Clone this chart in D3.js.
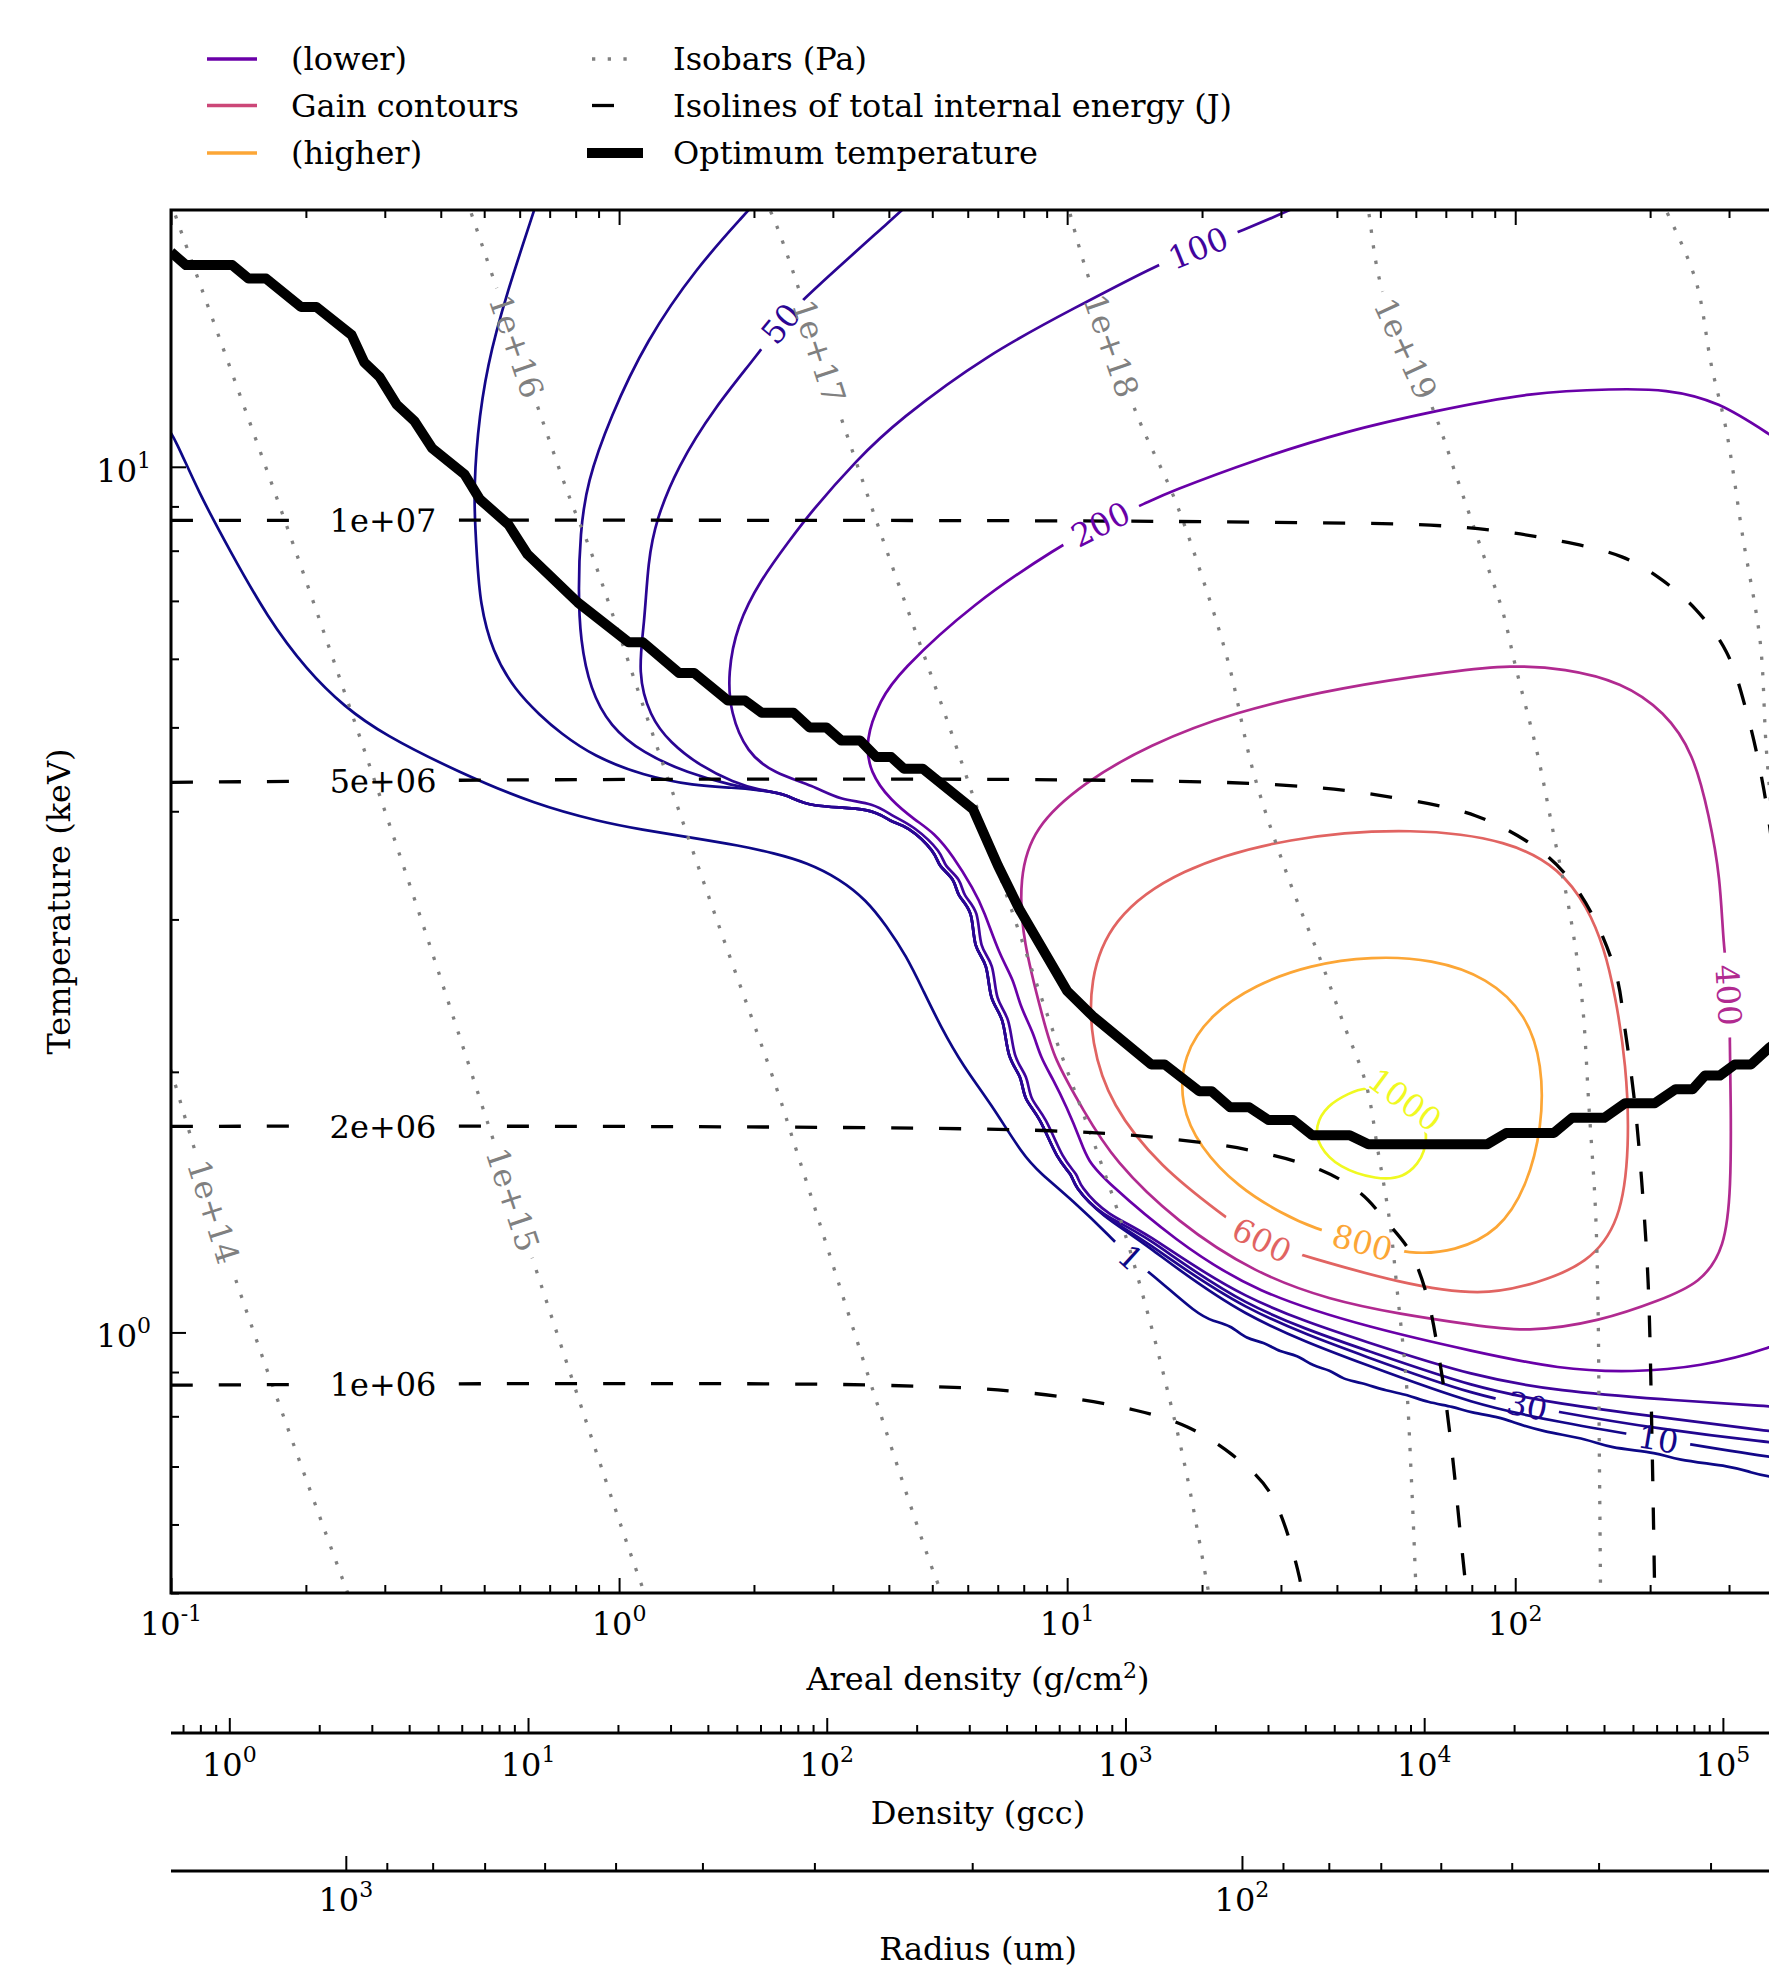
<!DOCTYPE html>
<html>
<head>
<meta charset="utf-8">
<title>Gain contours</title>
<script src="https://cdn.jsdelivr.net/npm/d3@7"></script>
<style>
  body { margin: 0; background: #fff; }
  svg { display: block; font-family: "DejaVu Serif", serif; }
</style>
</head>
<body>
<svg id="chart"></svg>
<script>
// ---- data: areal density (g/cm2) vs temperature (keV) ----

const gainLevels = [1, 10, 30, 50, 100, 200, 400, 600, 800, 1000];

const gain1 = [[0.097,11.2],[0.102,10.8],[0.115,9.36],[0.135,8.02],[0.164,6.70],[0.201,5.82],[0.244,5.28],[0.297,4.91],[0.441,4.43],[0.653,4.07],[0.908,3.89],[1.12,3.81],[1.45,3.73],[1.86,3.65],[2.21,3.58],[2.63,3.49],[3.11,3.34],[3.56,3.16],[3.95,2.95],[4.38,2.72],[4.76,2.49],[5.21,2.26],[5.86,2.03],[6.75,1.84],[7.98,1.60],[8.68,1.53],[10.3,1.42],[12.5,1.29],[13.8,1.22],[15.7,1.16],[19.5,1.05],[21.2,1.03],[23.1,1.02],[25.2,0.981],[27.4,0.976],[29.9,0.948],[32.6,0.943],[35.4,0.913],[38.6,0.906],[41.3,0.882],[45.1,0.876],[51.8,0.855],[57.4,0.848],[63.6,0.830],[72.8,0.821],[79.4,0.808],[92.7,0.798],[99.1,0.787],[114,0.769],[147,0.752],[160,0.736],[211,0.726],[225,0.713],[307,0.700],[335,0.689],[369,0.681],[420,0.675]];

const upper10 = [[0.656,20.3],[0.645,19.7],[0.562,15.9],[0.507,13.1],[0.482,10.9],[0.473,9.16],[0.482,7.85],[0.489,6.97],[0.521,6.11],[0.586,5.52],[0.667,5.16],[0.738,4.93],[0.877,4.63],[1.13,4.40],[1.47,4.28],[1.80,4.26]];
const upper30 = [[2.03,20.3],[1.93,19.7],[1.49,17.0],[1.15,14.0],[0.955,11.4],[0.847,9.58],[0.819,8.38],[0.811,7.21],[0.819,6.31],[0.862,5.53],[0.955,5.01],[1.13,4.67],[1.42,4.43],[1.80,4.28]];
const upper50 = [[4.51,20.3],[4.24,19.7],[2.67,15.9],[2.29,14.7],[2.07,13.6],[1.63,11.7],[1.35,10.0],[1.21,8.69],[1.16,7.78],[1.14,6.60],[1.10,5.78],[1.17,5.15],[1.30,4.80],[1.52,4.51],[1.80,4.32]];
const cliffBundle = [[2.06,4.23],[2.37,4.19],[2.63,4.04],[3.71,4.04],[4.03,3.88],[4.38,3.86],[5.11,3.58],[5.14,3.46],[5.63,3.34],[5.67,3.19],[6.17,3.08],[6.17,2.77],[6.66,2.68],[6.70,2.41],[7.24,2.32],[7.34,2.07],[7.93,1.98],[7.98,1.86],[8.68,1.78],[9.50,1.58],[10.3,1.52],[10.3,1.48],[12.0,1.36]];
const fan10 = [[14.6,1.28],[24.3,1.04],[48.2,0.911],[80.5,0.826],[126,0.787],[211,0.752],[369,0.717],[455,0.710]];
const fan30 = [[14.6,1.29],[24.3,1.06],[48.2,0.931],[80.5,0.846],[126,0.808],[211,0.773],[369,0.746],[455,0.739]];
const fan50 = [[14.6,1.31],[24.3,1.07],[48.2,0.948],[80.5,0.864],[126,0.826],[211,0.798],[369,0.769],[455,0.760]];

const gain10 = [...upper10, ...cliffBundle, ...fan10];
const gain30 = [...upper30, ...cliffBundle, ...fan30];
const gain50 = [...upper50, ...cliffBundle, ...fan50];

const gain100 = [[33.3,20.1],[30.8,19.7],[24.9,18.8],[19.5,17.9],[15.5,17.0],[10.5,15.3],[6.65,13.5],[4.18,11.3],[3.40,10.2],[2.67,8.85],[2.41,8.24],[2.07,7.41],[1.83,6.55],[1.75,5.78],[1.77,5.20],[1.93,4.67],[2.21,4.43],[2.72,4.28],[3.11,4.12],[3.70,4.09],[4.10,3.94],[4.54,3.85],[5.27,3.58],[5.30,3.46],[5.80,3.34],[5.85,3.19],[6.36,3.08],[6.36,2.77],[6.87,2.68],[6.91,2.41],[7.46,2.32],[7.57,2.07],[8.18,1.98],[8.23,1.86],[8.95,1.78],[9.79,1.58],[10.6,1.52],[10.6,1.48],[12.4,1.36],[14.6,1.32],[24.3,1.09],[48.2,0.969],[80.5,0.890],[126,0.855],[211,0.837],[369,0.821],[455,0.817]];

const gain200 = [[450,10.2],[369,10.9],[285,11.9],[217,12.3],[166,12.3],[109,12.2],[66.2,11.6],[42.0,11.0],[26.4,10.2],[16.7,9.33],[15.2,9.11],[11.9,8.61],[9.59,8.09],[6.17,6.96],[4.20,5.78],[3.83,5.38],[3.54,4.84],[3.63,4.43],[4.03,4.12],[4.60,3.90],[5.04,3.78],[5.57,3.55],[6.18,3.25],[6.51,3.08],[7.08,2.72],[7.59,2.56],[7.85,2.38],[8.41,2.22],[8.71,2.08],[9.31,1.96],[9.98,1.82],[10.7,1.67],[11.1,1.58],[12.3,1.49],[17.3,1.28],[26.3,1.11],[48.2,1.01],[80.5,0.951],[126,0.906],[183,0.899],[259,0.913],[369,0.956],[455,1.01]];

const gain400 = [[7.82,3.35],[8.39,3.83],[10.9,4.32],[15.2,4.77],[23.5,5.21],[41.3,5.57],[73.1,5.81],[97.5,5.90],[129,5.85],[173,5.64],[216,5.21],[250,4.67],[271,3.95],[287,3.35],[291,2.81],[301,2.46],[301,2.18],[303,1.83],[303,1.47],[294,1.25],[259,1.14],[211,1.09],[155,1.03],[106,1.00],[80.5,1.02],[55.3,1.05],[38.6,1.09],[26.3,1.17],[17.6,1.34],[12.7,1.58],[10.9,1.80],[9.31,2.08],[8.89,2.28],[7.94,2.84]];

const gain600 = [[34.9,1.22],[55.1,1.14],[84.3,1.10],[112,1.14],[145,1.20],[172,1.34],[180,1.64],[177,2.04],[167,2.46],[158,2.78],[145,3.10],[126,3.43],[97.3,3.70],[60.0,3.83],[31.1,3.74],[17.6,3.43],[12.5,3.00],[11.2,2.55],[11.3,2.16],[12.5,1.83],[16.2,1.55],[22.1,1.37],[27.0,1.27]];

const gain800 = [[58.3,1.23],[73.3,1.24],[92.1,1.31],[106,1.47],[115,1.73],[115,2.04],[106,2.33],[86.9,2.57],[65.3,2.70],[47.8,2.72],[34.9,2.66],[26.2,2.52],[20.9,2.33],[18.1,2.09],[17.9,1.83],[19.7,1.64],[24.1,1.47],[30.3,1.37],[35.4,1.32],[45.5,1.27]];

const gain1000 = [[42.6,1.89],[38.0,1.83],[35.7,1.73],[36.4,1.64],[40.3,1.55],[49.1,1.50],[56.6,1.51],[60.8,1.57],[62.5,1.61],[64.0,1.71],[59.8,1.83],[52.6,1.91],[46.2,1.92]];

const gainLines = [gain1, gain10, gain30, gain50, gain100, gain200, gain400, gain600, gain800, gain1000];
const gainClosed = [false, false, false, false, false, false, true, true, true, true];
const gainLabelAt = [[13.8,1.22],[208,0.752],[106,0.825],[2.29,14.7],[19.5,17.9],[11.9,8.61],[301,2.46],[27.0,1.27],[45.5,1.27],[56.5,1.85]];

// isobars (Pa)
const isobarNames = ['1e+14', '1e+15', '1e+16', '1e+17', '1e+18', '1e+19', '1e+20'];
const isobar14 = [[0.1,2.01],[0.135,1.21],[0.248,0.5],[0.26,0.47]];
const isobar15 = [[0.0997,20.3],[0.102,19.6],[0.193,7.79],[0.337,3.35],[0.578,1.43],[1.14,0.5],[1.2,0.47]];
const isobar16 = [[0.455,20.4],[0.465,19.8],[0.535,16.0],[0.667,11.5],[0.778,9.17],[0.862,8.02],[1.21,4.78],[1.67,2.95],[2.25,1.91],[2.50,1.61],[5.25,0.5],[5.5,0.48]];
const isobar17 = [[2.08,20.4],[2.17,19.8],[3.11,11.5],[3.95,8.02],[5.48,4.98],[7.34,3.19],[9.50,2.16],[11.7,1.61],[13.4,1.31],[15.3,1.03],[17.0,0.830],[18.5,0.684],[20.7,0.5],[21.0,0.48]];
const isobar18 = [[9.94,20.4],[10.1,19.8],[10.9,17.2],[14.3,11.5],[17.3,9.23],[20.1,7.41],[22.9,5.94],[26.1,4.42],[31.1,3.36],[36.8,2.69],[41.3,2.28],[46.4,1.94],[49.5,1.61],[52.5,1.34],[54.6,1.11],[57.1,0.881],[58.6,0.684],[60.1,0.5],[60.3,0.48]];
const isobar19 = [[46.4,20.4],[47.0,19.8],[50.5,16.0],[66.2,11.5],[74.3,9.67],[83.5,8.11],[93.8,6.80],[100,5.90],[112,4.67],[122,3.75],[133,3.01],[141,2.42],[146,1.83],[151,1.39],[153,1.08],[154,0.745],[155,0.5],[155,0.48]];
const isobar20 = [[211,20.4],[217,19.8],[253,16.4],[274,13.1],[296,11.0],[322,8.30],[352,6.29],[363,4.76],[383,3.35],[408,1.72]];
const isobarLines = [isobar14, isobar15, isobar16, isobar17, isobar18, isobar19, isobar20];
const isobarLabelAt = [[0.125,1.38],[0.586,1.43],[0.59,13.8],[2.80,13.6],[12.6,13.8],[57.5,13.7], null];

// isolines of total internal energy (J)
const energyNames = ['1e+06', '2e+06', '5e+06', '1e+07'];
const energy1e6 = [[0.1,0.869],[3.83,0.869],[8.13,0.852],[14.2,0.813],[18.5,0.778],[23.3,0.723],[28.4,0.652],[33.0,0.521],[33.6,0.48]];
const energy2e6 = [[0.1,1.73],[9.14,1.71],[17.6,1.67],[26.1,1.62],[36.8,1.54],[45.0,1.45],[51.8,1.34],[58.2,1.24],[63.3,1.11],[68.4,0.902],[72.4,0.721],[75.3,0.590],[78.5,0.48]];
const energy5e6 = [[0.1,4.32],[27.7,4.30],[54.8,4.14],[81.8,3.95],[109,3.66],[129,3.39],[149,3.03],[168,2.59],[176,2.23],[185,1.83],[192,1.47],[198,1.14],[202,0.745],[205,0.48]];
const energy1e7 = [[0.1,8.67],[26.3,8.63],[77.3,8.51],[127,8.20],[173,7.87],[208,7.46],[253,6.84],[296,6.11],[330,5.16],[359,4.23],[383,3.35]];
const energyLines = [energy1e6, energy2e6, energy5e6, energy1e7];
const energyLabelAt = [[0.297,0.869],[0.297,1.73],[0.297,4.32],[0.297,8.67]];

// optimum temperature
const optimum = [[0.100,17.7],[0.108,17.1],[0.137,17.1],[0.149,16.5],[0.163,16.5],[0.195,15.3],[0.211,15.3],[0.253,14.2],[0.270,13.2],[0.292,12.7],[0.319,11.8],[0.349,11.3],[0.383,10.5],[0.452,9.80],[0.489,9.17],[0.566,8.58],[0.625,7.92],[0.809,6.97],[1.05,6.27],[1.13,6.27],[1.36,5.78],[1.47,5.78],[1.75,5.37],[1.91,5.37],[2.08,5.20],[2.45,5.20],[2.66,5.00],[2.90,5.00],[3.13,4.83],[3.45,4.83],[3.75,4.62],[4.05,4.62],[4.32,4.48],[4.76,4.48],[6.17,4.02],[7.01,3.46],[7.83,3.08],[10.0,2.48],[11.4,2.32],[15.4,2.04],[16.5,2.04],[19.7,1.90],[21.0,1.90],[23.1,1.82],[25.5,1.82],[28.1,1.76],[31.9,1.76],[35.2,1.69],[42.7,1.69],[47.0,1.65],[86.7,1.65],[95.5,1.70],[122,1.70],[134,1.77],[158,1.77],[176,1.84],[205,1.84],[228,1.91],[249,1.91],[265,1.98],[286,1.98],[309,2.04],[336,2.04],[368,2.13],[422,2.24]];

// axes
const xDomain = [0.1, 400];
const yDomain = [0.5, 19.8];
const xMajorExps = [-1, 0, 1, 2];
const yMajorExps = [0, 1];
const densityMajorExps = [0, 1, 2, 3, 4, 5];
const radiusMajorExps = [3, 2];
const densityAtLeft = 0.638;   // g/cc at the left edge
const radiusAtLeft = 1567;     // um at the left edge

const legendLeftText = ['(lower)', 'Gain contours', '(higher)'];
const legendLeftShade = [0.2, 0.5, 0.8];
const legendRightText = ['Isobars (Pa)', 'Isolines of total internal energy (J)', 'Optimum temperature'];

// ---- drawing ----
const width = 1769, height = 1969;
const plot = { left: 171, right: 1785, top: 210, bottom: 1593 };
const fs = 32;

const svg = d3.select('#chart').attr('width', width).attr('height', height);
svg.append('rect').attr('width', width).attr('height', height).attr('fill', '#fff');
const defs = svg.append('defs');
defs.append('clipPath').attr('id', 'plotClip').append('rect')
  .attr('x', plot.left).attr('y', plot.top)
  .attr('width', plot.right - plot.left).attr('height', plot.bottom - plot.top);

const x = d3.scaleLog().domain(xDomain).range([plot.left, plot.right]);
const y = d3.scaleLog().domain(yDomain).range([plot.bottom, plot.top]);
const span = xDomain[1] / xDomain[0];
const dens = d3.scaleLog().domain([densityAtLeft, densityAtLeft * Math.pow(span, 1.5)]).range([plot.left, plot.right]);
const rad = d3.scaleLog().domain([radiusAtLeft, radiusAtLeft / Math.sqrt(span)]).range([plot.left, plot.right]);

const lines = svg.append('g').attr('clip-path', 'url(#plotClip)');
const gainLayer = lines.append('g');
const isobarLayer = lines.append('g');
const energyLayer = lines.append('g');
const optimumLayer = lines.append('g');
const labelLayer = svg.append('g').attr('clip-path', 'url(#plotClip)');

let maskCount = 0;
function drawCurve(layer, points, style, label) {
  const gen = d3.line().x(d => x(d[0])).y(d => y(d[1])).curve(style.curve);
  const id = 'lblmask' + (maskCount++);
  const mask = defs.append('mask').attr('id', id).attr('maskUnits', 'userSpaceOnUse')
    .attr('x', 0).attr('y', 0).attr('width', width).attr('height', height);
  mask.append('rect').attr('width', width).attr('height', height).attr('fill', '#fff');
  const path = layer.append('path').datum(points).attr('d', gen)
    .attr('fill', 'none').attr('stroke', style.color).attr('stroke-width', style.width)
    .attr('stroke-dasharray', style.dash || null)
    .attr('stroke-linejoin', 'round')
    .attr('mask', `url(#${id})`);
  if (!label) return;

  // put the label on the nearest point of the curve, aligned with it
  const node = path.node();
  const total = node.getTotalLength();
  const tx = x(label.at[0]), ty = y(label.at[1]);
  let best = 0, bestD = Infinity;
  for (let s = 0; s <= total; s += 2) {
    const p = node.getPointAtLength(s);
    const d = (p.x - tx) ** 2 + (p.y - ty) ** 2;
    if (d < bestD) { bestD = d; best = s; }
  }
  const p = node.getPointAtLength(best);
  const a = node.getPointAtLength(Math.max(0, best - 12));
  const b = node.getPointAtLength(Math.min(total, best + 12));
  let ang = Math.atan2(b.y - a.y, b.x - a.x) * 180 / Math.PI;
  if (ang > 90) ang -= 180;
  if (ang <= -90) ang += 180;
  const tr = `translate(${p.x},${p.y}) rotate(${ang})`;
  const t = labelLayer.append('text').attr('transform', tr)
    .attr('text-anchor', 'middle').attr('dy', '0.36em')
    .attr('font-size', fs).attr('fill', label.color).text(label.text);
  const w = t.node().getComputedTextLength();
  mask.append('rect').attr('transform', tr)
    .attr('x', -w / 2 - label.pad).attr('y', -fs * 0.45)
    .attr('width', w + 2 * label.pad).attr('height', fs * 0.9).attr('fill', '#000');
}

const gainColor = lev => d3.interpolatePlasma((lev - gainLevels[0]) / (gainLevels[gainLevels.length - 1] - gainLevels[0]));

gainLevels.forEach((lev, i) => {
  const c = gainColor(lev);
  drawCurve(gainLayer, gainLines[i],
    { color: c, width: 2.7, curve: gainClosed[i] ? d3.curveBasisClosed : d3.curveBasis },
    { at: gainLabelAt[i], text: String(lev), color: c, pad: 12 });
});

isobarLines.forEach((pts, i) => {
  drawCurve(isobarLayer, pts,
    { color: '#808080', width: 3.3, dash: '3.3 12.4', curve: d3.curveCatmullRom },
    isobarLabelAt[i] ? { at: isobarLabelAt[i], text: isobarNames[i], color: '#808080', pad: 8 } : null);
});

energyLines.forEach((pts, i) => {
  drawCurve(energyLayer, pts,
    { color: '#000', width: 3.3, dash: '22 26', curve: d3.curveCatmullRom },
    { at: energyLabelAt[i], text: energyNames[i], color: '#000', pad: 17 });
});

drawCurve(optimumLayer, optimum, { color: '#000', width: 10, curve: d3.curveLinear }, null);

// ---- axes ----
const axesLayer = svg.append('g');
const isMajor = v => Math.abs(Math.log10(v) - Math.round(Math.log10(v))) < 1e-6;

function tickSet(gen, scale, values, size, tx, ty) {
  axesLayer.append('g').attr('transform', `translate(${tx},${ty})`)
    .call(gen(scale).tickValues(values).tickSize(size).tickSizeOuter(0).tickFormat(''))
    .call(g => {
      g.select('.domain').remove();
      g.selectAll('text').remove();
      g.selectAll('line').attr('stroke', '#000').attr('stroke-width', 2);
    });
}
function ticksFor(scale, gens, positions) {
  const all = scale.ticks();
  const major = all.filter(isMajor);
  const minor = all.filter(v => !isMajor(v));
  gens.forEach((gen, k) => {
    tickSet(gen, scale, major, -15, positions[k][0], positions[k][1]);
    tickSet(gen, scale, minor, -8, positions[k][0], positions[k][1]);
  });
}
ticksFor(x, [d3.axisBottom, d3.axisTop], [[0, plot.bottom], [0, plot.top]]);
ticksFor(y, [d3.axisLeft], [[plot.left, 0]]);
ticksFor(dens, [d3.axisBottom], [[0, 1733]]);
ticksFor(rad, [d3.axisBottom], [[0, 1871]]);

axesLayer.append('rect')
  .attr('x', plot.left).attr('y', plot.top)
  .attr('width', plot.right - plot.left).attr('height', plot.bottom - plot.top)
  .attr('fill', 'none').attr('stroke', '#000').attr('stroke-width', 3);
[1733, 1871].forEach(yy => axesLayer.append('line')
  .attr('x1', plot.left).attr('x2', plot.right).attr('y1', yy).attr('y2', yy)
  .attr('stroke', '#000').attr('stroke-width', 3));

function powerLabel(px, py, exp, anchor) {
  const t = axesLayer.append('text').attr('x', px).attr('y', py)
    .attr('text-anchor', anchor).attr('font-size', fs).attr('fill', '#000');
  t.append('tspan').text('10');
  t.append('tspan').attr('dy', -14).attr('font-size', 22).text(exp);
}
xMajorExps.forEach(e => powerLabel(x(Math.pow(10, e)), 1635, e, 'middle'));
yMajorExps.forEach(e => powerLabel(151, y(Math.pow(10, e)) + 15, e, 'end'));
densityMajorExps.forEach(e => powerLabel(dens(Math.pow(10, e)), 1776, e, 'middle'));
radiusMajorExps.forEach(e => powerLabel(rad(Math.pow(10, e)), 1911, e, 'middle'));

const midX = (plot.left + plot.right) / 2;
const xt = axesLayer.append('text').attr('x', midX).attr('y', 1690)
  .attr('text-anchor', 'middle').attr('font-size', fs);
xt.append('tspan').text('Areal density (g/cm');
xt.append('tspan').attr('dy', -12).attr('font-size', 22).text('2');
xt.append('tspan').attr('dy', 12).text(')');
axesLayer.append('text').attr('x', midX).attr('y', 1824)
  .attr('text-anchor', 'middle').attr('font-size', fs).text('Density (gcc)');
axesLayer.append('text').attr('x', midX).attr('y', 1960)
  .attr('text-anchor', 'middle').attr('font-size', fs).text('Radius (um)');
axesLayer.append('text')
  .attr('transform', `translate(70,${(plot.top + plot.bottom) / 2}) rotate(-90)`)
  .attr('text-anchor', 'middle').attr('font-size', fs).text('Temperature (keV)');

// ---- legend ----
const legend = svg.append('g');
const rowY = [59, 105.5, 153];
legendLeftText.forEach((txt, i) => {
  legend.append('line').attr('x1', 207).attr('x2', 257).attr('y1', rowY[i]).attr('y2', rowY[i])
    .attr('stroke', d3.interpolatePlasma(legendLeftShade[i])).attr('stroke-width', 3.5);
  legend.append('text').attr('x', 291).attr('y', rowY[i] + 11).attr('font-size', fs).text(txt);
});
const rightStyles = [
  { x2: 630, color: '#808080', width: 3.3, dash: '3.3 12.4' },
  { x2: 640, color: '#000', width: 3.3, dash: '22 26' },
  { x2: 643, color: '#000', width: 10, dash: null }
];
legendRightText.forEach((txt, i) => {
  const st = rightStyles[i];
  legend.append('line').attr('x1', i === 2 ? 587 : 592).attr('x2', st.x2)
    .attr('y1', rowY[i]).attr('y2', rowY[i])
    .attr('stroke', st.color).attr('stroke-width', st.width).attr('stroke-dasharray', st.dash);
  legend.append('text').attr('x', 673).attr('y', rowY[i] + 11).attr('font-size', fs).text(txt);
});
</script>
</body>
</html>
